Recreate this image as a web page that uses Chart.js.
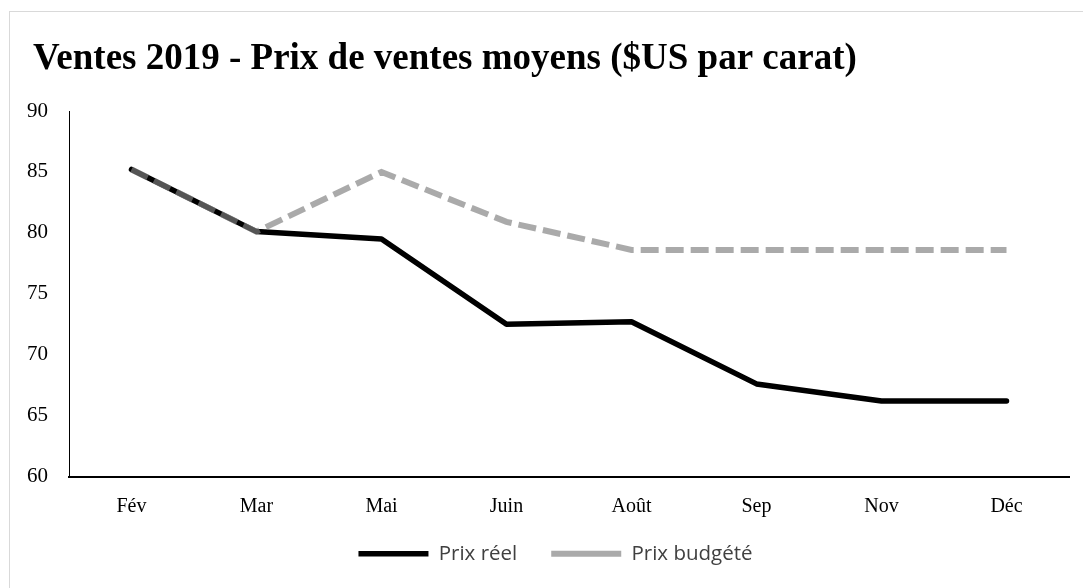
<!DOCTYPE html>
<html><head><meta charset="utf-8">
<script src="https://cdn.jsdelivr.net/npm/chart.js@4/dist/chart.umd.min.js"></script>
<style>
html,body{margin:0;padding:0;background:#fff;width:1083px;height:588px;overflow:hidden}
#frame{position:absolute;left:9px;top:11px;width:1090px;height:600px;border:1px solid #d9d9d9;box-sizing:border-box}
#wrap{position:absolute;left:10px;top:12px;width:1073px;height:590px}
</style></head><body>
<div id="frame"></div>
<div id="wrap"><canvas id="c"></canvas></div>
<script>
const categories = ["Fév","Mar","Mai","Juin","Août","Sep","Nov","Déc"];
const prixReel = [85.2, 80.1, 79.5, 72.5, 72.7, 67.6, 66.2, 66.2];
const prixBudgete = [85.2, 80.1, 85.0, 80.9, 78.6, 78.6, 78.6, 78.6];
const yTicks = [60, 65, 70, 75, 80, 85, 90];
const titleText = "Ventes 2019 - Prix de ventes moyens ($US par carat)";

const serif = "'Liberation Serif', 'Times New Roman', serif";
const boxTweaks = {
  id: 'boxTweaks',
  afterLayout(chart) {
    if (chart.titleBlock) chart.titleBlock.left = 23;
    const lg = chart.legend;
    if (lg) { lg.top -= 13; lg.bottom -= 13; lg.left += 16; lg.right += 16; }
  }
};
new Chart(document.getElementById('c'), {
  type: 'line',
  data: {
    labels: categories,
    datasets: [
      {label: "Prix réel", data: prixReel, borderColor: "#000", backgroundColor: "#000", borderWidth: 5.5, pointRadius: 0, tension: 0, borderCapStyle: 'round', borderJoinStyle: 'round', order: 2},
      {label: "Prix budgété", data: prixBudgete, borderColor: "rgba(127,127,127,0.667)", backgroundColor: "rgba(127,127,127,0.667)", borderWidth: 6, borderDash: [18, 7], pointRadius: 0, tension: 0, order: 1}
    ]
  },
  plugins: [boxTweaks],
  options: {
    responsive: true, maintainAspectRatio: false, animation: false,
    layout: {padding: {left: 0, right: 14, top: 0, bottom: 15}},
    plugins: {
      title: {display: true, text: titleText, align: 'start', color: '#000',
        font: {family: serif, size: 37, weight: 'bold'},
        padding: {top: 25, bottom: 29.6}},
      legend: {position: 'bottom',
        labels: {usePointStyle: true, pointStyle: 'line', pointStyleWidth: 70, color: '#404040', padding: 34,
          font: {family: "'Open Sans', 'Liberation Sans', sans-serif", size: 20.5},
          sort: (a, b) => a.datasetIndex - b.datasetIndex}},
      tooltip: {enabled: false}
    },
    scales: {
      x: {offset: true, grid: {display: false, drawTicks: false}, border: {display: true, color: '#000', width: 2},
        afterFit: s => { s.height = 46; },
        ticks: {color: '#000', padding: 18, font: {family: serif, size: 20}}},
      y: {min: 60, max: 90, grid: {display: false, drawTicks: false}, border: {display: true, color: '#000', width: 1},
        afterBuildTicks: s => { s.ticks = yTicks.map(v => ({value: v})); },
        afterFit: s => { s.width = 59; },
        ticks: {color: '#000', padding: 21, font: {family: serif, size: 21}}}
    }
  }
});
</script>
</body></html>
